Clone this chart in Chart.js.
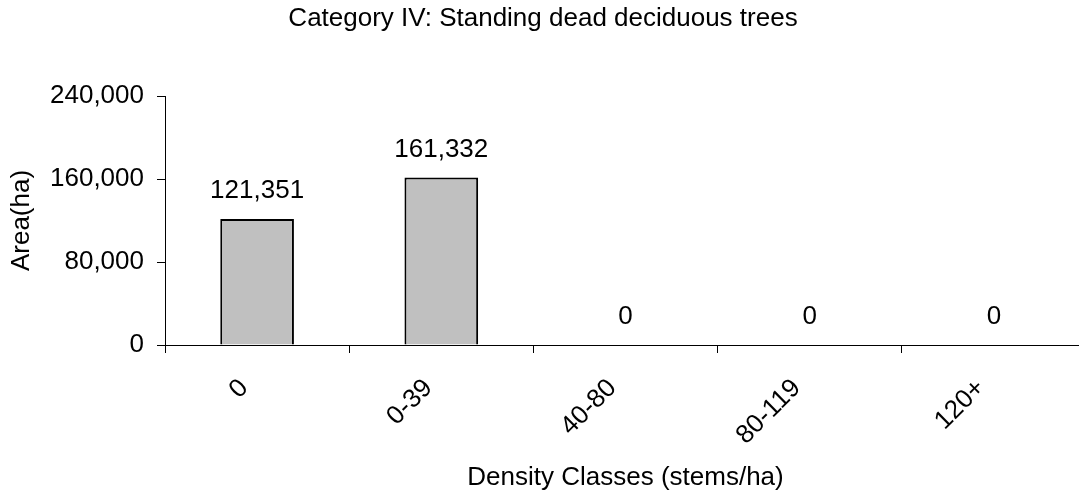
<!DOCTYPE html>
<html>
<head>
<meta charset="utf-8">
<script src="https://cdn.jsdelivr.net/npm/chart.js@4/dist/chart.umd.min.js"></script>
<style>
html,body{margin:0;padding:0;background:#fff;overflow:hidden;width:1079px;height:496px;}
canvas{display:block;}
</style>
</head>
<body>
<canvas id="c" width="1086" height="496" style="width:1086px;height:496px"></canvas>
<script>
const categories = ['0', '0-39', '40-80', '80-119', '120+'];
const areaValues = [121351, 161332, 0, 0, 0];
const yTicks = [0, 80000, 160000, 240000];
const chartTitle = 'Category IV: Standing dead deciduous trees';
const xTitle = 'Density Classes (stems/ha)';
const yTitle = 'Area(ha)';

const FONT = "'Liberation Sans', Arial, sans-serif";
const fmt = v => v.toLocaleString('en-US');

const valueLabels = {
  id: 'valueLabels',
  afterDatasetsDraw(chart) {
    const ctx = chart.ctx;
    const meta = chart.getDatasetMeta(0);
    ctx.save();
    ctx.font = '26px ' + FONT;
    ctx.fillStyle = '#000';
    ctx.textAlign = 'center';
    ctx.textBaseline = 'middle';
    meta.data.forEach((bar, i) => {
      ctx.fillText(fmt(areaValues[i]), bar.x, bar.y - 28);
    });
    ctx.restore();
  }
};

new Chart(document.getElementById('c'), {
  type: 'bar',
  data: {
    labels: categories,
    datasets: [{
      data: areaValues,
      backgroundColor: '#C0C0C0',
      borderColor: '#000',
      borderWidth: 2,
      barPercentage: 0.4,
      categoryPercentage: 1.0
    }]
  },
  options: {
    responsive: false,
    animation: false,
    devicePixelRatio: 1,
    layout: { padding: 0 },
    plugins: {
      legend: { display: false },
      tooltip: { enabled: false },
      title: {
        display: true,
        text: chartTitle,
        color: '#000',
        font: { family: FONT, size: 26, weight: 'normal', lineHeight: 1.2 },
        padding: { top: 3, bottom: 61.8 }
      }
    },
    scales: {
      x: {
        afterFit(s) { s.height = 151; },
        border: { display: true, color: '#000', width: 1 },
        grid: { display: true, drawOnChartArea: false, drawTicks: true, tickLength: 8, color: '#000', offset: true },
        ticks: {
          color: '#000',
          font: { family: FONT, size: 26 },
          minRotation: 45,
          maxRotation: 45,
          padding: 20,
          labelOffset: -13
        },
        title: {
          display: true,
          text: xTitle,
          color: '#000',
          font: { family: FONT, size: 26, lineHeight: 1.2 },
          padding: { top: 0, bottom: 3 }
        }
      },
      y: {
        min: 0,
        max: 240000,
        afterFit(s) { s.width = 165; },
        afterBuildTicks(s) { s.ticks = yTicks.map(v => ({ value: v })); },
        border: { display: true, color: '#000', width: 1 },
        grid: { display: true, drawOnChartArea: false, drawTicks: true, tickLength: 8, color: '#000' },
        ticks: {
          color: '#000',
          font: { family: FONT, size: 26 },
          padding: 13,
          callback: v => fmt(v)
        },
        title: {
          display: true,
          text: yTitle,
          color: '#000',
          font: { family: FONT, size: 26, lineHeight: 1.2 },
          padding: { top: 6, bottom: 0 }
        }
      }
    }
  },
  plugins: [valueLabels]
});
</script>
</body>
</html>
